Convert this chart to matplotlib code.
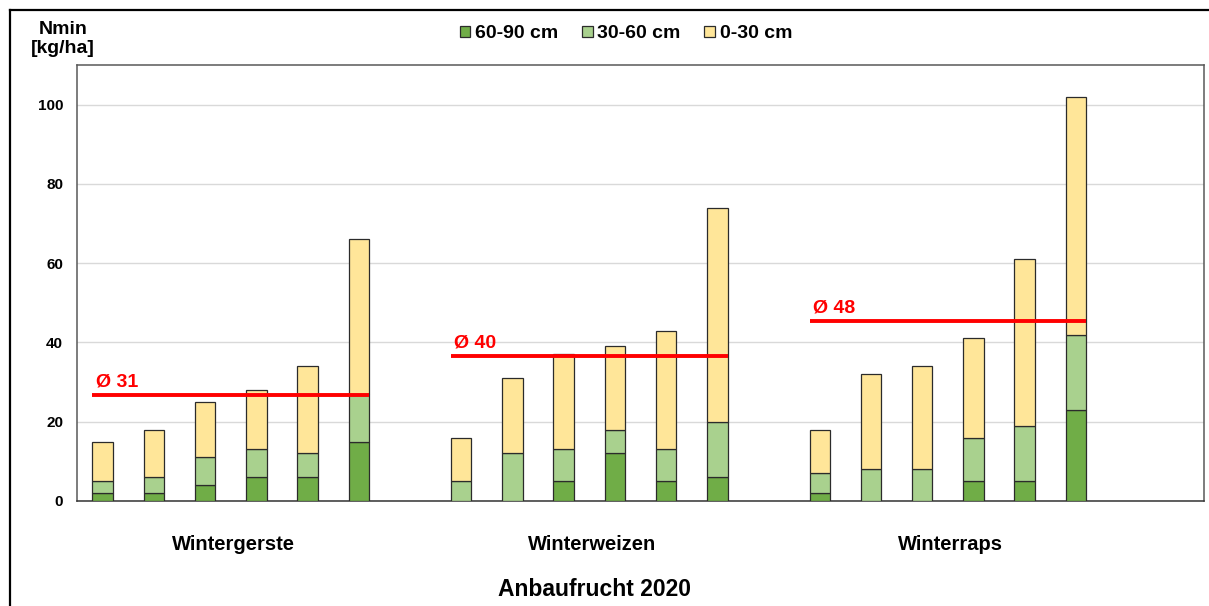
import matplotlib
matplotlib.use("Agg")
import matplotlib.pyplot as plt
import matplotlib.transforms as mtransforms
from matplotlib.lines import Line2D
from matplotlib.patches import Patch

plt.rcParams['font.family'] = ['Liberation Sans', 'DejaVu Sans']
plt.rcParams['font.weight'] = 'bold'

# Nmin per soil layer [kg/ha], six sites per crop
crops = ["Wintergerste", "Winterweizen", "Winterraps"]
layers = ["60-90 cm", "30-60 cm", "0-30 cm"]
layer_colors = ["#70AD47", "#A9D18E", "#FFE699"]

deep_60_90 = [
    [2, 2, 4, 6, 6, 15],
    [0, 0, 5, 12, 5, 6],
    [2, 0, 0, 5, 5, 23],
]
mid_30_60 = [
    [3, 4, 7, 7, 6, 12],
    [5, 12, 8, 6, 8, 14],
    [5, 8, 8, 11, 14, 19],
]
top_0_30 = [
    [10, 12, 14, 15, 22, 39],
    [11, 19, 24, 21, 30, 54],
    [11, 24, 26, 25, 42, 60],
]
crop_means = [31, 40, 48]

yticks = [0, 20, 40, 60, 80, 100]

W, H = 1209, 606
fig = plt.figure(figsize=(W / 100, H / 100), dpi=100)
ax = fig.add_axes([77 / W, 1 - 501 / H, (1204 - 77) / W, (501 - 65) / H])

bar_w = 0.4
group_slots = 7  # six bars plus one empty slot
positions = []
for g in range(len(crops)):
    xs = [g * group_slots + i for i in range(6)]
    positions.append(xs)
    bottoms = [0] * 6
    for layer_vals, color in zip((deep_60_90[g], mid_30_60[g], top_0_30[g]), layer_colors):
        ax.bar(xs, layer_vals, width=bar_w, bottom=bottoms, color=color,
               edgecolor="#2b2b2b", linewidth=0.9, zorder=3)
        bottoms = [b + v for b, v in zip(bottoms, layer_vals)]

ax.set_xlim(-0.5, 21.5)
ax.set_ylim(0, 110)
ax.set_yticks(yticks)
ax.set_yticklabels([str(t) for t in yticks], fontsize=11, fontweight='bold')
ax.tick_params(axis='y', length=0, pad=10)
ax.set_xticks([])
ax.grid(axis='y', color="#D9D9D9", linewidth=1.0, zorder=0)
ax.set_axisbelow(True)
for side, sp in ax.spines.items():
    sp.set_color("#595959")
    sp.set_linewidth(1.1)
ax.spines['bottom'].set_color("#333333")

# mean lines on the secondary value axis
ax2 = ax.twinx()
ax2.set_ylim(6.7, 106.9)
ax2.axis('off')
for g, mean in enumerate(crop_means):
    x0 = positions[g][0] - bar_w / 2
    x1 = positions[g][-1] + bar_w / 2
    ax2.plot([x0, x1], [mean, mean], color="#FF0000", linewidth=2.8,
             solid_capstyle='butt', zorder=5)
    ax2.annotate(f"Ø {mean}", xy=(x0, mean), xytext=(2.5, 6.5),
                 textcoords='offset points', ha='left', va='baseline',
                 color="#FF0000", fontsize=14, fontweight='bold')

# crop names below each group
trans = mtransforms.blended_transform_factory(ax.transData, fig.transFigure)
for g, name in enumerate(crops):
    xc = (positions[g][0] + positions[g][-1]) / 2 + 0.05
    ax.text(xc, 1 - 544 / H, name, transform=trans, ha='center', va='center',
            fontsize=14.5, fontweight='bold')

fig.text(595 / W, 1 - 589 / H, "Anbaufrucht 2020", ha='center', va='center',
         fontsize=16.5, fontweight='bold')
fig.text(63 / W, 1 - 39 / H, "Nmin\n[kg/ha]", ha='center', va='center',
         fontsize=14, fontweight='bold', linespacing=1.2)

handles = [Patch(facecolor=c, edgecolor="#2b2b2b", linewidth=0.9) for c in layer_colors]
fig.legend(handles, layers, loc='center', bbox_to_anchor=(626 / W, 1 - 34 / H),
           ncol=3, frameon=False, handlelength=0.55, handleheight=0.55,
           handletextpad=0.25, columnspacing=1.2, borderpad=0,
           prop={'weight': 'bold', 'size': 14})

# outer chart frame (left and top edges)
fig.add_artist(Line2D([10 / W, 10 / W], [0, 1 - 10 / H], color='black', linewidth=1.6,
                      transform=fig.transFigure))
fig.add_artist(Line2D([10 / W, 1], [1 - 10 / H, 1 - 10 / H], color='black', linewidth=1.6,
                      transform=fig.transFigure))

fig.savefig("out.png", dpi=100)
